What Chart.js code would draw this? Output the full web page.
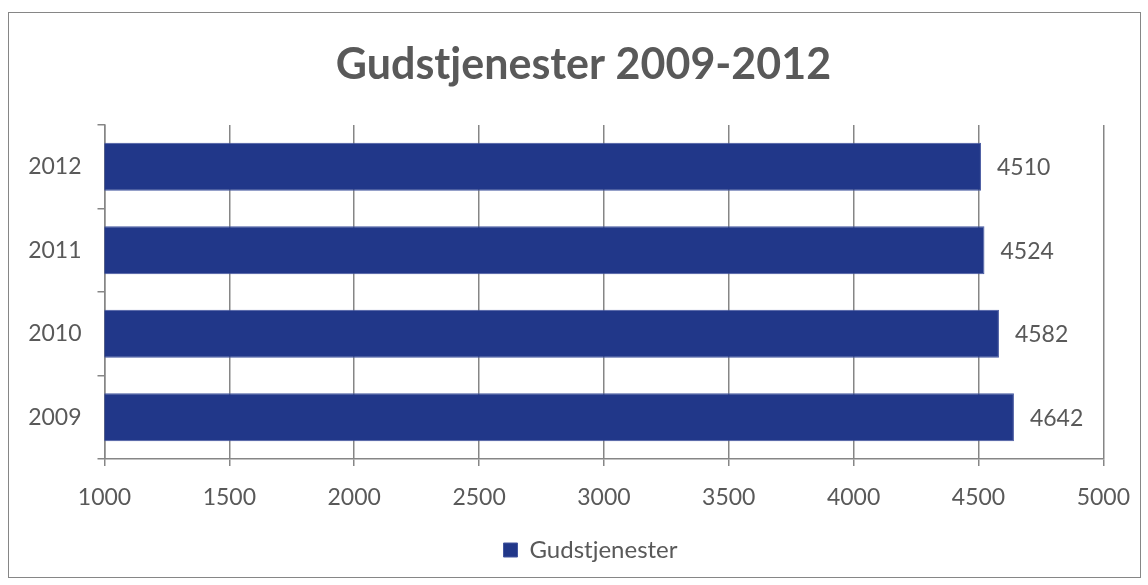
<!DOCTYPE html>
<html>
<head>
<meta charset="utf-8">
<script src="https://cdn.jsdelivr.net/npm/chart.js@4"></script>
<style>
  html, body { margin: 0; padding: 0; background: #fff; }
  #wrap { position: relative; width: 1148px; height: 585px; }
  #frame {
    position: absolute; left: 8px; top: 12px; width: 1131px; height: 564px;
    border: 1px solid #868686; pointer-events: none;
  }
</style>
</head>
<body>
<div id="wrap">
  <canvas id="chart" width="1148" height="585"></canvas>
  <div id="frame"></div>
</div>
<script>
const years = ["2012", "2011", "2010", "2009"];
const services = [4510, 4524, 4582, 4642];
const xTicks = [1000, 1500, 2000, 2500, 3000, 3500, 4000, 4500, 5000];

const textColor = "#595959";
const gridColor = "#868686";
const barColor = "#213789";

// values at the end of each bar, like the spreadsheet data labels
const barLabels = {
  id: "barLabels",
  afterDatasetsDraw(chart) {
    const ctx = chart.ctx;
    const meta = chart.getDatasetMeta(0);
    ctx.save();
    ctx.font = "23px Lato";
    ctx.fillStyle = textColor;
    ctx.textBaseline = "middle";
    ctx.textAlign = "left";
    meta.data.forEach((bar, i) => {
      ctx.fillText(String(services[i]), bar.x + 16, bar.y + 1);
    });
    ctx.restore();
  },
};

// the original centres title and legend a bit further right than chart.js does
const nudgeBoxes = {
  id: "nudgeBoxes",
  afterLayout(chart) {
    const shift = (box, dx) => {
      if (!box) return;
      box.left += dx;
      box.right += dx;
    };
    shift(chart.titleBlock, 31);
    shift(chart.legend, 38);
  },
};

new Chart(document.getElementById("chart"), {
  type: "bar",
  data: {
    labels: years,
    datasets: [
      {
        label: "Gudstjenester",
        data: services,
        backgroundColor: barColor,
        borderColor: "#4457a0",
        borderWidth: 1,
        categoryPercentage: 1,
        barPercentage: 0.575,
      },
    ],
  },
  options: {
    responsive: false,
    animation: false,
    indexAxis: "y",
    layout: { padding: { left: 0, right: 43, top: 0, bottom: 13 } },
    plugins: {
      title: {
        display: true,
        text: "Gudstjenester 2009-2012",
        color: textColor,
        font: { family: "Lato", size: 43, weight: "bold", lineHeight: 1.2 },
        padding: { top: 39, bottom: 34.4 },
      },
      legend: {
        position: "bottom",
        labels: {
          color: textColor,
          font: { family: "Lato", size: 24 },
          boxWidth: 14,
          boxHeight: 14,
          padding: 10,
        },
      },
      tooltip: { enabled: false },
    },
    scales: {
      x: {
        min: 1000,
        max: 5000,
        afterBuildTicks(scale) {
          scale.ticks = xTicks.map((value) => ({ value }));
        },
        afterFit(scale) {
          scale.height = 69;
        },
        grid: { color: gridColor, lineWidth: 1.5, tickLength: 7 },
        border: { color: gridColor, width: 1.5 },
        ticks: {
          color: textColor,
          font: { family: "Lato", size: 23 },
          padding: 18,
          callback: (value) => String(value),
        },
      },
      y: {
        afterFit(scale) {
          scale.width = 104.5;
        },
        grid: {
          color: gridColor,
          lineWidth: 1.5,
          tickLength: 7,
          drawOnChartArea: false,
          offset: true,
        },
        border: { color: gridColor, width: 1.5 },
        ticks: {
          color: textColor,
          font: { family: "Lato", size: 23 },
          padding: 16,
        },
      },
    },
  },
  plugins: [barLabels, nudgeBoxes],
});
</script>
</body>
</html>
